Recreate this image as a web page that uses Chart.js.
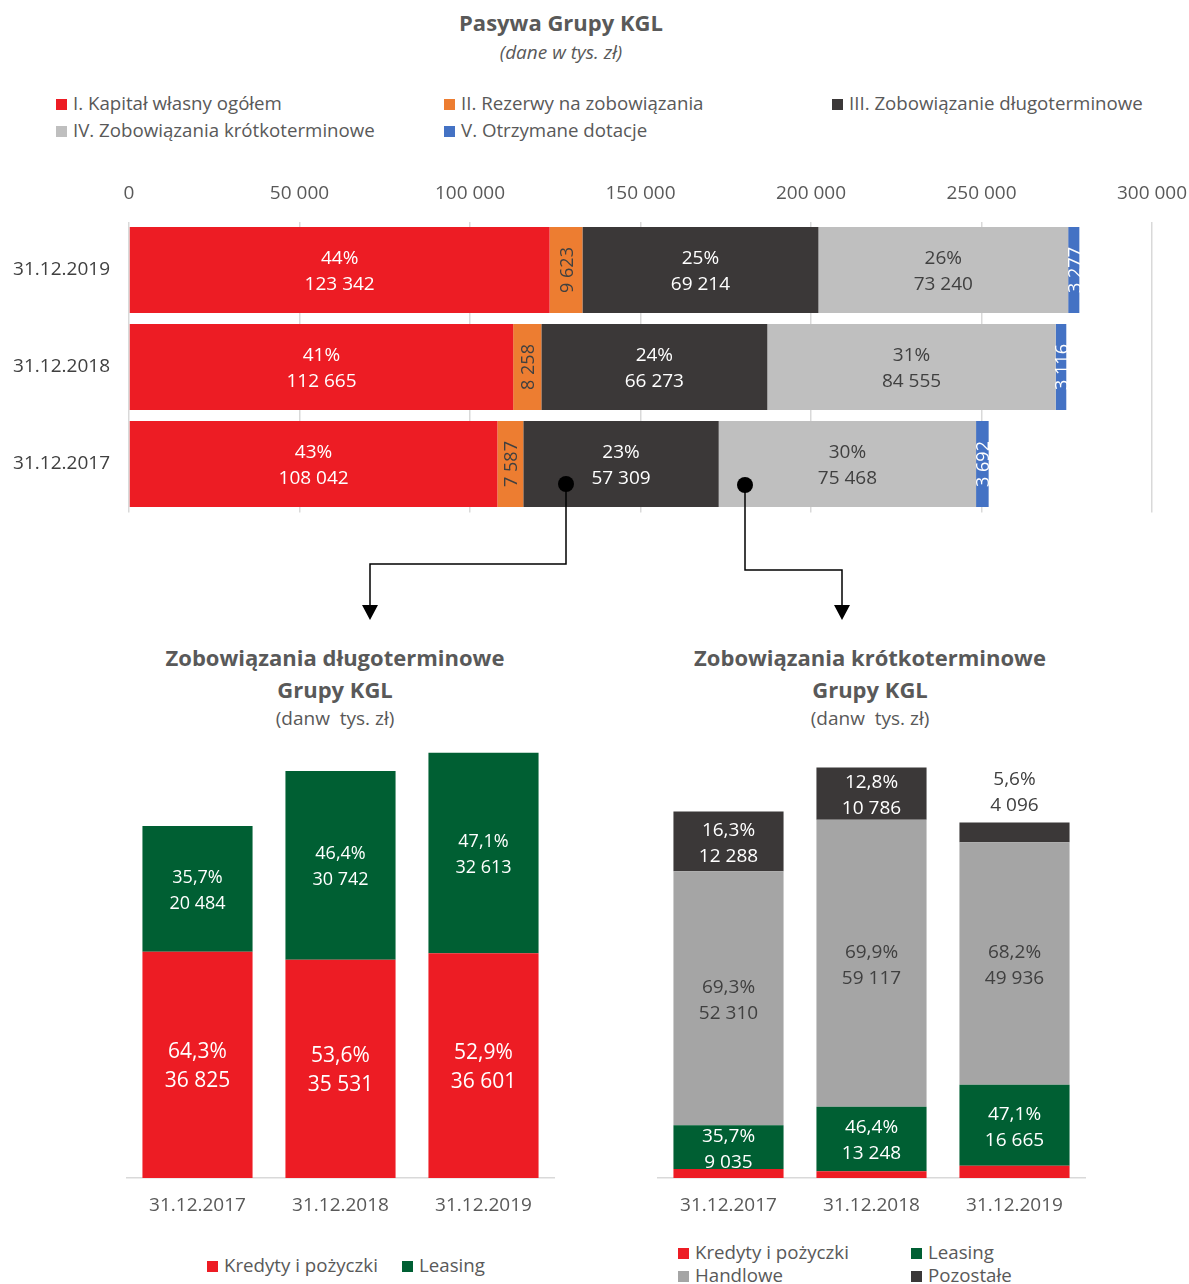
<!DOCTYPE html>
<html>
<head>
<meta charset="utf-8">
<script src="https://cdn.jsdelivr.net/npm/chart.js@4.4.1/dist/chart.umd.min.js"></script>
<style>
  body{margin:0;background:#fff;font-family:'Open Sans',sans-serif;color:#595959;}
  #page{position:relative;width:1189px;height:1284px;overflow:hidden;}
  canvas{position:absolute;}
  .t{position:absolute;transform:translateX(-50%);white-space:nowrap;text-align:center;}
  .lg{position:absolute;font-size:18.7px;line-height:22px;white-space:nowrap;}
  .lg i{display:inline-block;width:11px;height:11px;margin-right:6px;vertical-align:0px;}
  svg{position:absolute;left:0;top:0;}
</style>
</head>
<body>
<div id="page">
  <div class="t" style="left:561px;top:7px;font-size:22px;font-weight:bold;">Pasywa Grupy KGL</div>
  <div class="t" style="left:561px;top:39px;font-size:19px;font-style:italic;">(dane w tys. zł)</div>
  <div id="legTop"></div>

  <canvas id="pasywa" width="1189" height="350" style="left:0;top:170px;"></canvas>

  <div class="t" style="left:335px;top:641px;font-size:22px;font-weight:bold;line-height:32px;">Zobowiązania długoterminowe<br>Grupy KGL</div>
  <div class="t" style="left:335px;top:705px;font-size:19px;">(danw&nbsp; tys. zł)</div>
  <canvas id="dlugo" width="429" height="472" style="left:126px;top:748px;"></canvas>
  <div id="legDlugo"></div>

  <div class="t" style="left:870px;top:641px;font-size:22px;font-weight:bold;line-height:32px;">Zobowiązania krótkoterminowe<br>Grupy KGL</div>
  <div class="t" style="left:870px;top:705px;font-size:19px;">(danw&nbsp; tys. zł)</div>
  <canvas id="krotko" width="429" height="479" style="left:657px;top:741px;"></canvas>
  <div id="legKrotko"></div>

  <svg width="1189" height="1284">
    <g stroke="#000" stroke-width="1.5" fill="none">
      <polyline points="566,484 566,564 370,564 370,606"/>
      <polyline points="745,485 745,570 842,570 842,606"/>
    </g>
    <g fill="#000">
      <circle cx="566" cy="484" r="8"/>
      <circle cx="745" cy="485" r="8"/>
      <polygon points="362,605 378,605 370,620"/>
      <polygon points="834,605 850,605 842,620"/>
    </g>
  </svg>
</div>
<script>
// --- dane: Pasywa Grupy KGL (tys. zł) ---
var lata = ['31.12.2019', '31.12.2018', '31.12.2017'];
var kapital = [123342, 112665, 108042];
var rezerwy = [9623, 8258, 7587];
var zobDlugo = [69214, 66273, 57309];
var zobKrotko = [73240, 84555, 75468];
var dotacje = [3277, 3116, 3692];
var osX = [0, 50000, 100000, 150000, 200000, 250000, 300000];

// --- zobowiązania długoterminowe ---
var lataD = ['31.12.2017', '31.12.2018', '31.12.2019'];
var kredytyD = [36825, 35531, 36601];
var leasingD = [20484, 30742, 32613];
var kredytyDPct = ['64,3%', '53,6%', '52,9%'];
var leasingDPct = ['35,7%', '46,4%', '47,1%'];

// --- zobowiązania krótkoterminowe ---
var lataK = ['31.12.2017', '31.12.2018', '31.12.2019'];
var kredytyK = [1835, 1404, 2543];
var leasingK = [9035, 13248, 16665];
var handloweK = [52310, 59117, 49936];
var pozostaleK = [12288, 10786, 4096];
var leasingKPct = ['35,7%', '46,4%', '47,1%'];
var handloweKPct = ['69,3%', '69,9%', '68,2%'];
var pozostaleKPct = ['16,3%', '12,8%', '5,6%'];

var RED = '#ED1C24', ORANGE = '#ED7D31', DARK = '#3B3838', LGRAY = '#BFBFBF',
    BLUE = '#4472C4', GREEN = '#005F33', MGRAY = '#A5A5A5';

Chart.defaults.font.family = "'Open Sans', sans-serif";
Chart.defaults.color = '#595959';

function fmt(n){ return String(n).replace(/\B(?=(\d{3})+(?!\d))/g, ' '); }

function suma(arrs, i){
    var s = 0;
    arrs.forEach(function(a){ s += a[i]; });
    return s;
}

// etykiety w słupkach
var etykiety = {
    id: 'etykiety',
    afterDatasetsDraw: function(chart){
        var ctx = chart.ctx;
        var pozioma = chart.options.indexAxis === 'y';
        chart.data.datasets.forEach(function(ds, di){
            if (!ds.lbl) return;
            var meta = chart.getDatasetMeta(di);
            meta.data.forEach(function(el, i){
                var lines = ds.lbl(i);
                if (!lines) return;
                var cx, cy, size;
                if (pozioma) {
                    cx = (el.x + el.base) / 2; cy = el.y; size = Math.abs(el.x - el.base);
                } else {
                    cx = el.x; cy = (el.y + el.base) / 2; size = Math.abs(el.base - el.y);
                }
                var color = ds.lblColor;
                var lh = ds.lblGap || 26;
                ctx.save();
                ctx.font = ds.lblSize + "px 'Open Sans'";
                ctx.textAlign = 'center';
                ctx.textBaseline = 'middle';
                if (!pozioma && size < 30) {
                    // za mały segment - etykieta nad słupkiem
                    cy = el.y - 32; color = '#404040';
                }
                ctx.fillStyle = color;
                ctx.translate(cx, cy);
                if (ds.lblRot) ctx.rotate(-Math.PI / 2);
                lines.forEach(function(t, k){
                    ctx.fillText(t, 0, (k - (lines.length - 1) / 2) * lh + 2);
                });
                ctx.restore();
            });
        });
    }
};

function dwieLinie(vals, arrs){
    return function(i){
        return [Math.round(vals[i] / suma(arrs, i) * 100) + '%', fmt(vals[i])];
    };
}

var wszystkie = [kapital, rezerwy, zobDlugo, zobKrotko, dotacje];

new Chart(document.getElementById('pasywa'), {
    type: 'bar',
    data: {
        labels: lata,
        datasets: [
            {label: 'I. Kapitał własny ogółem', data: kapital, backgroundColor: RED,
             lbl: dwieLinie(kapital, wszystkie), lblColor: '#fff', lblSize: 19},
            {label: 'II. Rezerwy na zobowiązania', data: rezerwy, backgroundColor: ORANGE,
             lbl: function(i){ return [fmt(rezerwy[i])]; }, lblColor: '#404040', lblSize: 18, lblRot: true},
            {label: 'III. Zobowiązanie długoterminowe', data: zobDlugo, backgroundColor: DARK,
             lbl: dwieLinie(zobDlugo, wszystkie), lblColor: '#fff', lblSize: 19},
            {label: 'IV. Zobowiązania krótkoterminowe', data: zobKrotko, backgroundColor: LGRAY,
             lbl: dwieLinie(zobKrotko, wszystkie), lblColor: '#404040', lblSize: 19},
            {label: 'V. Otrzymane dotacje', data: dotacje, backgroundColor: BLUE,
             lbl: function(i){ return [fmt(dotacje[i])]; }, lblColor: '#fff', lblSize: 18, lblRot: true}
        ]
    },
    options: {
        indexAxis: 'y',
        responsive: false,
        animation: false,
        datasets: {bar: {barPercentage: 0.887, categoryPercentage: 1}},
        layout: {padding: {left: 0, right: 37, top: 0, bottom: 7.5}},
        plugins: {legend: {display: false}, tooltip: {enabled: false}},
        scales: {
            x: {
                position: 'top', stacked: true, min: 0, max: 300000,
                afterBuildTicks: function(s){ s.ticks = osX.map(function(v){ return {value: v}; }); },
                ticks: {font: {size: 19}, color: '#595959', padding: 17, callback: function(v){ return fmt(v); }},
                grid: {color: '#D9D9D9', lineWidth: 1.5, drawTicks: false},
                border: {display: false},
                afterFit: function(s){ s.height = 51.5; s.paddingLeft = 0; s.paddingRight = 0; }
            },
            y: {
                stacked: true,
                ticks: {font: {size: 19}, color: '#404040', padding: 19},
                grid: {display: false, drawTicks: false},
                border: {display: false},
                afterFit: function(s){ s.width = 129; s.paddingTop = 0; s.paddingBottom = 0; }
            }
        }
    },
    plugins: [etykiety]
});

function osieDolne(max){
    return {
        x: {
            stacked: true,
            ticks: {font: {size: 19}, color: '#595959', padding: 16},
            grid: {display: false, drawTicks: false},
            border: {display: true, color: '#D9D9D9', width: 1.5},
            afterFit: function(s){ s.height = 42; s.paddingLeft = 0; s.paddingRight = 0; }
        },
        y: {stacked: true, display: false, min: 0, max: max}
    };
}

var dlugoChart = new Chart(document.getElementById('dlugo'), {
    type: 'bar',
    data: {
        labels: lataD,
        datasets: [
            {label: 'Kredyty i pożyczki', data: kredytyD, backgroundColor: RED,
             lbl: function(i){ return [kredytyDPct[i], fmt(kredytyD[i])]; }, lblColor: '#fff', lblSize: 21, lblGap: 29},
            {label: 'Leasing', data: leasingD, backgroundColor: GREEN,
             lbl: function(i){ return [leasingDPct[i], fmt(leasingD[i])]; }, lblColor: '#fff', lblSize: 18}
        ]
    },
    options: {
        responsive: false,
        animation: false,
        datasets: {bar: {barPercentage: 0.77, categoryPercentage: 1}},
        layout: {padding: 0},
        plugins: {legend: {display: false}, tooltip: {enabled: false}},
        scales: osieDolne(70000)
    },
    plugins: [etykiety]
});

var krotkoChart = new Chart(document.getElementById('krotko'), {
    type: 'bar',
    data: {
        labels: lataK,
        datasets: [
            {label: 'Kredyty i pożyczki', data: kredytyK, backgroundColor: RED},
            {label: 'Leasing', data: leasingK, backgroundColor: GREEN,
             lbl: function(i){ return [leasingKPct[i], fmt(leasingK[i])]; }, lblColor: '#fff', lblSize: 19},
            {label: 'Handlowe', data: handloweK, backgroundColor: MGRAY,
             lbl: function(i){ return [handloweKPct[i], fmt(handloweK[i])]; }, lblColor: '#404040', lblSize: 19},
            {label: 'Pozostałe', data: pozostaleK, backgroundColor: DARK,
             lbl: function(i){ return [pozostaleKPct[i], fmt(pozostaleK[i])]; }, lblColor: '#fff', lblSize: 19}
        ]
    },
    options: {
        responsive: false,
        animation: false,
        datasets: {bar: {barPercentage: 0.77, categoryPercentage: 1}},
        layout: {padding: 0},
        plugins: {legend: {display: false}, tooltip: {enabled: false}},
        scales: osieDolne(90000)
    },
    plugins: [etykiety]
});

// legendy w HTML (pozycje kolumn jak w oryginale)
function legenda(target, datasets, pos){
    var box = document.getElementById(target);
    datasets.forEach(function(ds, i){
        var d = document.createElement('div');
        d.className = 'lg';
        d.style.left = pos[i][0] + 'px';
        d.style.top = (pos[i][1] - 11) + 'px';
        d.innerHTML = '<i style="background:' + ds.backgroundColor + '"></i>' + ds.label;
        box.appendChild(d);
    });
}
var topDs = Chart.getChart('pasywa').data.datasets;
legenda('legTop', topDs, [[56, 103], [444, 103], [832, 103], [56, 130], [444, 130]]);
legenda('legDlugo', dlugoChart.data.datasets, [[207, 1265], [402, 1265]]);
legenda('legKrotko', krotkoChart.data.datasets, [[678, 1252], [911, 1252], [678, 1275], [911, 1275]]);
</script>
</body>
</html>
